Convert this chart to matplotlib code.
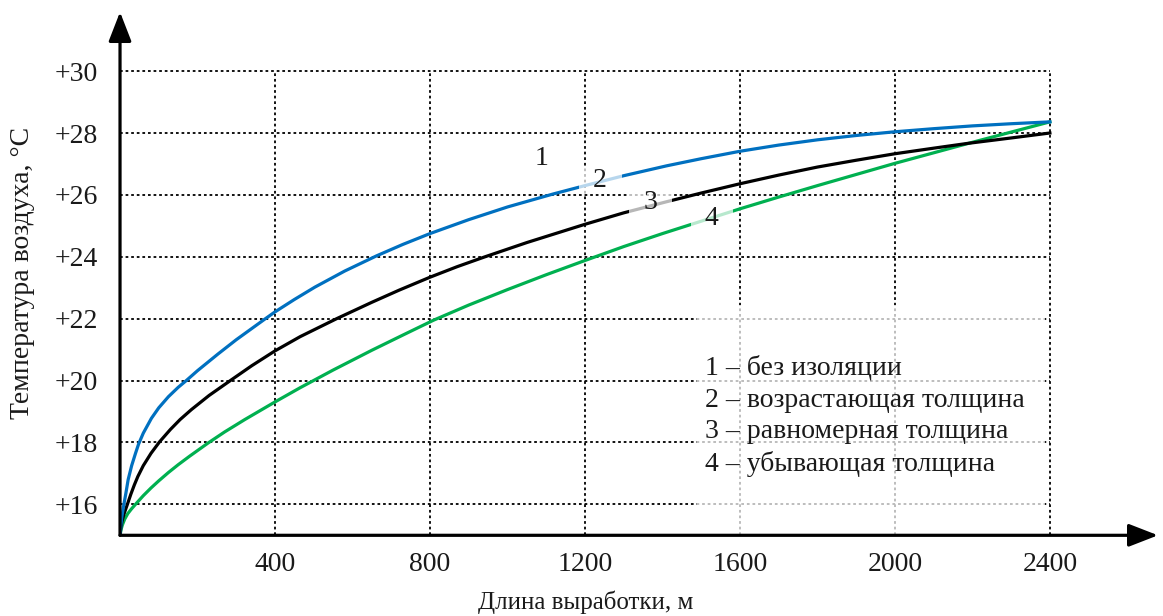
import matplotlib
matplotlib.use('Agg')
import matplotlib.pyplot as plt

# distance along the working, m  /  air temperature, deg C
blue_x = [0, 2, 5, 10, 15, 21, 30, 40, 48, 60, 81, 100, 125, 150, 171, 200, 253, 300, 373, 400,
          450, 503, 580, 662, 730, 800, 900, 1000, 1118, 1200, 1300, 1411, 1500, 1600, 1700,
          1800, 1900, 2000, 2100, 2200, 2300, 2400]
blue_y = [15, 15.3, 15.62, 16, 16.35, 16.8, 17.25, 17.65, 17.95, 18.3, 18.78, 19.12, 19.48,
          19.78, 20, 20.32, 20.86, 21.32, 21.98, 22.22, 22.62, 23.02, 23.54, 24.03, 24.4, 24.75,
          25.2, 25.61, 26.03, 26.3, 26.62, 26.94, 27.17, 27.41, 27.61, 27.78, 27.92, 28.04,
          28.14, 28.23, 28.3, 28.36]

black_x = [0, 2, 5, 10, 19, 28, 37, 46, 60, 80, 102, 130, 155, 184, 230, 287, 340, 400, 465,
           559, 650, 720, 800, 870, 942, 1050, 1200, 1300, 1411, 1500, 1600, 1700, 1800, 1900,
           2000, 2100, 2185, 2300, 2400]
black_y = [15, 15.25, 15.45, 15.68, 16, 16.33, 16.63, 16.9, 17.25, 17.65, 18.02, 18.42, 18.74,
           19.06, 19.52, 20.02, 20.48, 20.96, 21.42, 22, 22.53, 22.92, 23.34, 23.68, 24, 24.46,
           25.05, 25.42, 25.78, 26.06, 26.36, 26.64, 26.9, 27.12, 27.33, 27.51, 27.66, 27.84, 28]

green_x = [0, 3, 6, 12, 20, 30, 42, 60, 80, 100, 125, 150, 180, 227, 270, 322, 400, 465, 550,
           650, 730, 809, 900, 1000, 1100, 1200, 1300, 1400, 1500, 1600, 1700, 1800, 1900, 2000,
           2100, 2200, 2300, 2400]
green_y = [15, 15.2, 15.33, 15.52, 15.7, 15.86, 16.03, 16.28, 16.53, 16.76, 17.03, 17.28, 17.56,
           17.98, 18.34, 18.74, 19.31, 19.77, 20.34, 20.98, 21.47, 21.95, 22.44, 22.94, 23.42,
           23.88, 24.33, 24.75, 25.15, 25.55, 25.93, 26.3, 26.66, 27.02, 27.36, 27.7, 28.03, 28.36]

curve_labels = ['1', '2', '3', '4']
label_x = [1089, 1239, 1370, 1528]
label_y = [27.19, 26.45, 25.74, 25.25]

legend_lines = ['1 – без изоляции', '2 – возрастающая толщина',
                '3 – равномерная толщина', '4 – убывающая толщина']
legend_y = [20.41, 19.37, 18.34, 17.30]

x_ticks = [400, 800, 1200, 1600, 2000, 2400]
y_ticks = [16, 18, 20, 22, 24, 26, 28, 30]

plt.rcParams['font.family'] = ['Liberation Serif', 'DejaVu Serif']
FS = 20
TXT = '#1a1a1a'

fig = plt.figure(figsize=(11.63, 6.16), dpi=100)
ax = fig.add_axes([0.1032, 0.131, 0.8925, 0.8495])
ax.set_xlim(0, 2679)
ax.set_ylim(15, 31.91)
for s in ax.spines.values():
    s.set_visible(False)

# dotted grid, only inside the 0..2400 x 15..30 field
dots = (0, (1.5, 1.6))
ax.vlines(x_ticks, 15, 30, colors='black', linestyles=[dots], linewidth=1.3, zorder=1)
ax.hlines(y_ticks, 0, 2400, colors='black', linestyles=[dots], linewidth=1.3, zorder=1)

# pale box behind the legend text
ax.add_patch(plt.Rectangle((1489, 15), 898, 7.45, facecolor='white', alpha=0.72,
                           edgecolor='none', zorder=2))

ax.plot(green_x, green_y, color='#00B050', lw=2.3, zorder=3)
ax.plot(black_x, black_y, color='black', lw=2.3, zorder=3)
ax.plot(blue_x, blue_y, color='#0070C0', lw=2.3, zorder=3)

for i, t in enumerate(curve_labels):
    bb = None if i == 0 else dict(boxstyle='square,pad=0.02', facecolor='white',
                                  alpha=0.72, edgecolor='none')
    ax.text(label_x[i], label_y[i], '  ' + t + '  ', fontsize=FS, color=TXT,
            ha='center', va='center', bbox=bb, zorder=4)

for t, yy in zip(legend_lines, legend_y):
    ax.text(1510, yy, t, fontsize=FS, color=TXT, ha='left', va='center', zorder=4)

# axes with arrows
arr = dict(arrowstyle='-|>,head_length=0.9,head_width=0.35', color='black', lw=2.3,
           mutation_scale=20, shrinkA=0, shrinkB=0)
ax.annotate('', xy=(2679, 15), xytext=(0, 15), arrowprops=arr, annotation_clip=False, zorder=5)
ax.annotate('', xy=(0, 31.91), xytext=(0, 15), arrowprops=arr, annotation_clip=False, zorder=5)

ax.set_xticks(x_ticks)
ax.set_xticklabels([str(v) for v in x_ticks])
ax.set_yticks(y_ticks)
ax.set_yticklabels(['+%d' % v for v in y_ticks])
ax.tick_params(axis='both', length=0, labelsize=FS, labelcolor=TXT)
ax.tick_params(axis='x', pad=12)
ax.tick_params(axis='y', pad=16)

fig.text(0.5034, 0.0227, 'Длина выработки, м', fontsize=18, color=TXT, ha='center', va='center')
fig.text(0.0195, 0.557, 'Температура воздуха, °С', fontsize=FS, color=TXT,
         rotation=90, ha='center', va='center')

fig.savefig('out.png', dpi=100)
